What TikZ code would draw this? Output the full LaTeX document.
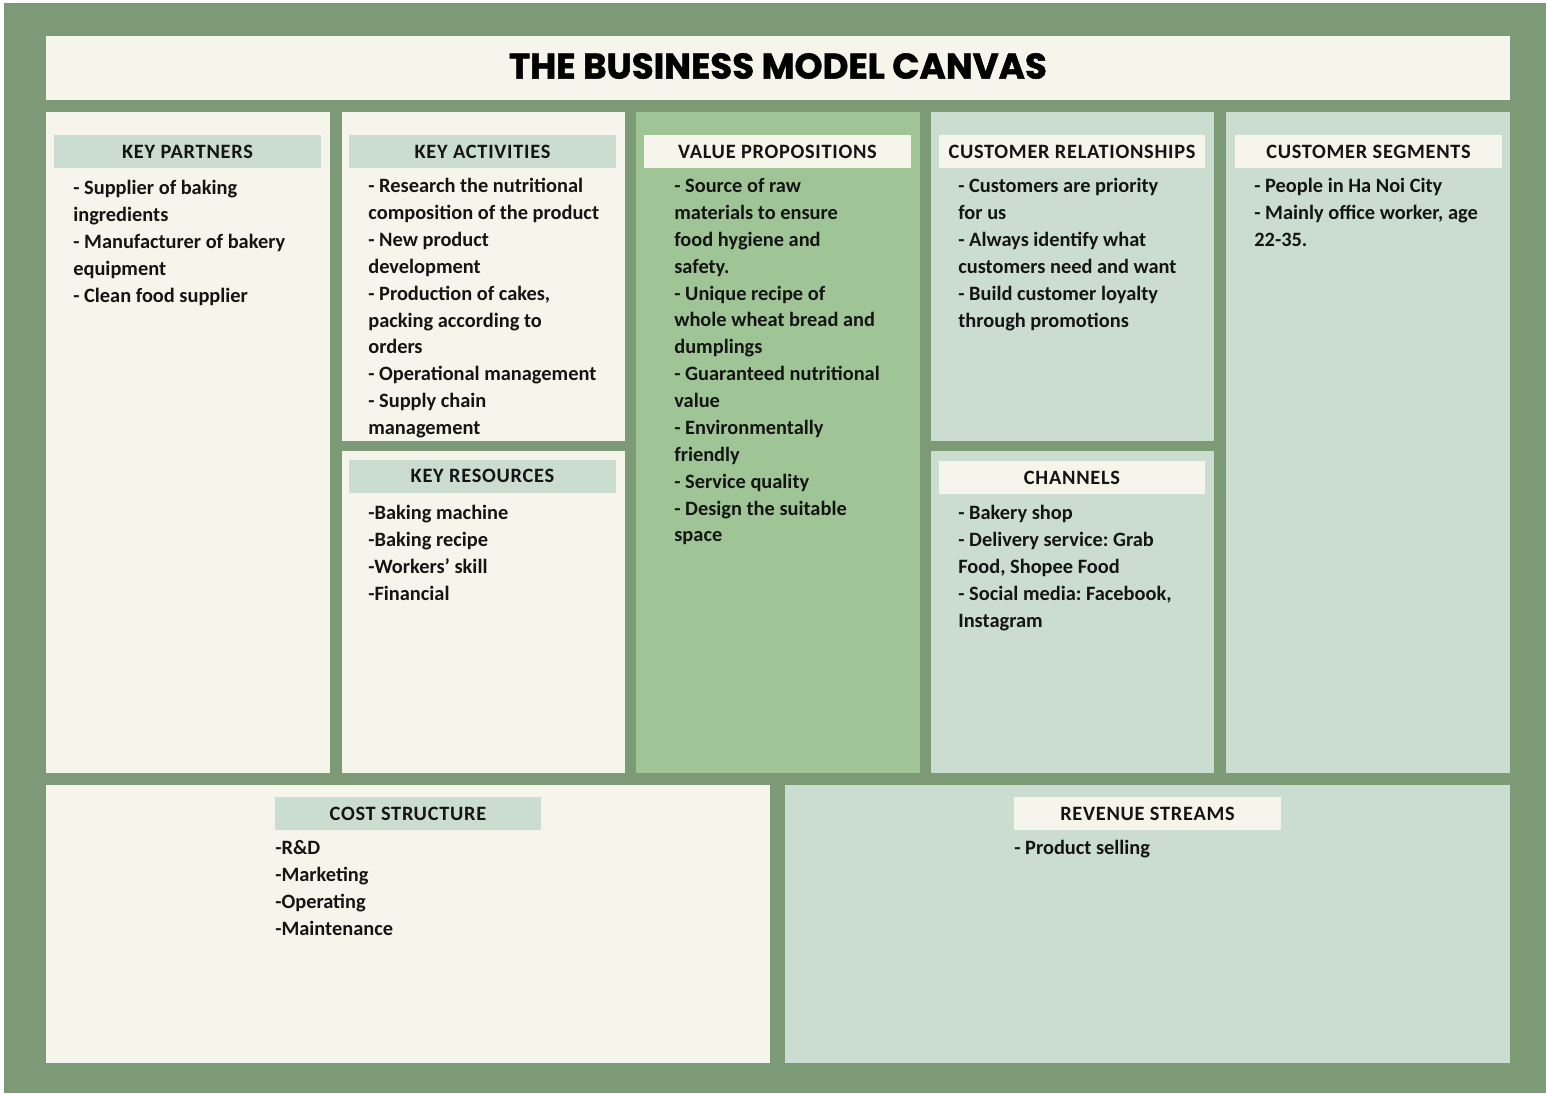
\documentclass[tikz,border=0pt]{standalone}
\usepackage{fontspec}
\setmainfont{Carlito}
\newfontfamily\titlefont{Poppins}[BoldFeatures={FakeBold=1.4}]
\newfontfamily\hdrfont{Carlito}[LetterSpace=3.5]
\usetikzlibrary{positioning}
\definecolor{canvasgreen}{HTML}{7C9A76}
\definecolor{cream}{HTML}{F5F5EB}
\definecolor{mint}{HTML}{CBDDD1}
\definecolor{leaf}{HTML}{9FC596}
\frenchspacing
\tikzset{
    hdr/.style={inner sep=0pt, minimum width=5.34cm, minimum height=0.66cm,
        font=\hdrfont\fontsize{11.6}{13}\selectfont\bfseries, text=black!92},
    body/.style={anchor=north west, inner sep=0pt, align=left,
        font=\fontsize{11.6}{15.3}\selectfont\bfseries, text=black!92},
}

\begin{document}
\begin{tikzpicture}[x=0.02cm, y=-0.02cm]
\useasboundingbox (0,0) rectangle (1546,1093);
\fill[white] (0,0) rectangle (1546,1093);
\fill[canvasgreen] (4,3) rectangle (1546,1093);

% title
\fill[cream] (46,36) rectangle (1510,100);
\node[font=\titlefont\fontsize{20.3}{24}\selectfont\bfseries] (title) at (778,66) {THE BUSINESS MODEL CANVAS};

% blocks
\fill[cream] (46,112) rectangle (330,773);
\fill[cream] (342,112) rectangle (625,441);
\fill[cream] (342,451) rectangle (625,773);
\fill[leaf] (636,112) rectangle (920,773);
\fill[mint] (931,112) rectangle (1214,441);
\fill[mint] (931,451) rectangle (1214,773);
\fill[mint] (1226,112) rectangle (1510,773);
\fill[cream] (46,785) rectangle (770,1063);
\fill[mint] (785,785) rectangle (1510,1063);

% headers
\node[hdr, fill=mint] (kp) at (187.5,151.5) {KEY PARTNERS};
\node[hdr, fill=mint] (ka) at (482.5,151.5) {KEY ACTIVITIES};
\node[hdr, fill=cream] (vp) at (777.5,151.5) {VALUE PROPOSITIONS};
\node[hdr, fill=cream] (cr) at (1072,151.5) {CUSTOMER RELATIONSHIPS};
\node[hdr, fill=cream] (cs) at (1368.5,151.5) {CUSTOMER SEGMENTS};
\node[hdr, fill=mint] (kr) at (482.5,476) {KEY RESOURCES};
\node[hdr, fill=cream] (ch) at (1072,477.5) {CHANNELS};
\node[hdr, fill=mint] (cost) at (408,813.5) {COST STRUCTURE};
\node[hdr, fill=cream] (rev) at (1147.5,813.5) {REVENUE STREAMS};

% contents
\node[body] (kptext) at (73,180) {- Supplier of baking\\ingredients\\- Manufacturer of bakery\\equipment\\- Clean food supplier};
\node[body] (katext) at (368,178) {- Research the nutritional\\composition of the product\\- New product\\development\\- Production of cakes,\\packing according to\\orders\\- Operational management\\- Supply chain\\management};
\node[body] (vptext) at (674,178) {- Source of raw\\materials to ensure\\food hygiene and\\safety.\\- Unique recipe of\\whole wheat bread and\\dumplings\\- Guaranteed nutritional\\value\\- Environmentally\\friendly\\- Service quality\\- Design the suitable\\space};
\node[body] (crtext) at (958,178) {- Customers are priority\\for us\\- Always identify what\\customers need and want\\- Build customer loyalty\\through promotions};
\node[body] (cstext) at (1254,178) {- People in Ha Noi City\\- Mainly office worker, age\\22-35.};
\node[body] (krtext) at (368,505) {-Baking machine\\-Baking recipe\\-Workers’ skill\\-Financial};
\node[body] (chtext) at (958,505) {- Bakery shop\\- Delivery service: Grab\\Food, Shopee Food\\- Social media: Facebook,\\Instagram};
\node[body] (costtext) at (275,840) {-R\&D\\-Marketing\\-Operating\\-Maintenance};
\node[body] (revtext) at (1014,840) {- Product selling};
\end{tikzpicture}
\end{document}
